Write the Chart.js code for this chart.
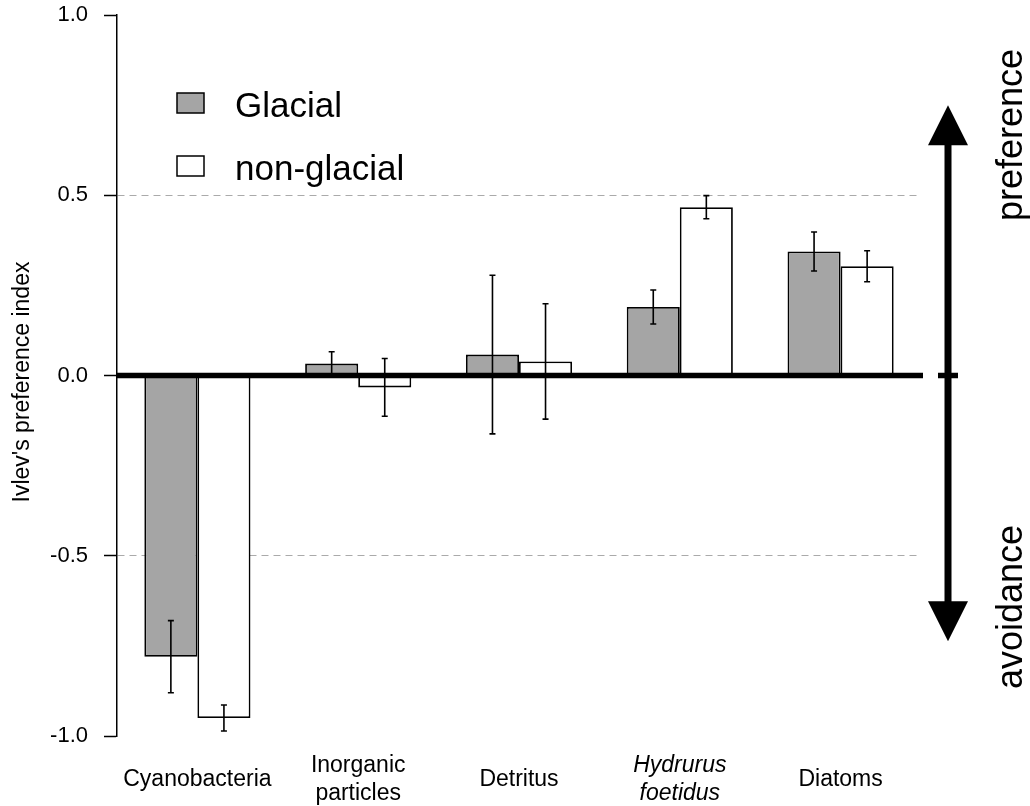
<!DOCTYPE html>
<html>
<head>
<meta charset="utf-8">
<title>Ivlev's preference index</title>
<script src="https://cdn.jsdelivr.net/npm/chart.js@4.4.1/dist/chart.umd.min.js"></script>
<style>
    html, body { margin: 0; padding: 0; background: #fff; }
    #wrap { width: 1030px; height: 806px; }
</style>
</head>
<body>
<div id="wrap"><canvas id="chart" width="1030" height="806"></canvas></div>
<script>
// данные графика
const categories = ['Cyanobacteria', ['Inorganic', 'particles'], 'Detritus', ['Hydrurus', 'foetidus'], 'Diatoms'];
const glacial = [-0.78, 0.033, 0.058, 0.19, 0.344];
const glacialErr = [0.10, 0.033, 0.22, 0.047, 0.054];
const nonGlacial = [-0.95, -0.033, 0.039, 0.467, 0.303];
const nonGlacialErr = [0.036, 0.08, 0.16, 0.032, 0.043];
const yTicks = [-1, -0.5, 0, 0.5, 1];

const FONT = "'Liberation Sans', Arial, Helvetica, sans-serif";

// усы погрешностей
const errorBars = {
    id: 'errorBars',
    afterDatasetsDraw(chart) {
        const ctx = chart.ctx;
        const y = chart.scales.y;
        chart.data.datasets.forEach((ds, i) => {
            const meta = chart.getDatasetMeta(i);
            meta.data.forEach((bar, j) => {
                const v = ds.data[j];
                const e = ds.errors[j];
                const top = y.getPixelForValue(v + e);
                const bottom = y.getPixelForValue(v - e);
                ctx.save();
                ctx.strokeStyle = '#000';
                ctx.lineWidth = 1.6;
                ctx.beginPath();
                ctx.moveTo(bar.x, top);
                ctx.lineTo(bar.x, bottom);
                ctx.moveTo(bar.x - 3, top);
                ctx.lineTo(bar.x + 3, top);
                ctx.moveTo(bar.x - 3, bottom);
                ctx.lineTo(bar.x + 3, bottom);
                ctx.stroke();
                ctx.restore();
            });
        });
    }
};

// линия нуля, легенда, стрелка и подписи
const decorations = {
    id: 'decorations',
    afterDatasetsDraw(chart) {
        const ctx = chart.ctx;
        const area = chart.chartArea;
        const y = chart.scales.y;
        const y0 = y.getPixelForValue(0);

        ctx.save();
        // жирная линия нуля
        ctx.strokeStyle = '#000';
        ctx.lineWidth = 5.5;
        ctx.beginPath();
        ctx.moveTo(area.left, y0);
        ctx.lineTo(area.right + 2, y0);
        ctx.stroke();

        // стрелка preference / avoidance
        const ax = 948;
        const tipTop = y.getPixelForValue(0.75);
        const tipBottom = y.getPixelForValue(-0.737);
        const head = 40;
        ctx.lineWidth = 7;
        ctx.beginPath();
        ctx.moveTo(ax, tipTop + head - 2);
        ctx.lineTo(ax, tipBottom - head + 2);
        ctx.stroke();
        ctx.fillStyle = '#000';
        ctx.beginPath();
        ctx.moveTo(ax, tipTop);
        ctx.lineTo(ax - 20, tipTop + head);
        ctx.lineTo(ax + 20, tipTop + head);
        ctx.closePath();
        ctx.fill();
        ctx.beginPath();
        ctx.moveTo(ax, tipBottom);
        ctx.lineTo(ax - 20, tipBottom - head);
        ctx.lineTo(ax + 20, tipBottom - head);
        ctx.closePath();
        ctx.fill();
        ctx.lineWidth = 5.5;
        ctx.beginPath();
        ctx.moveTo(ax - 10, y0);
        ctx.lineTo(ax + 10, y0);
        ctx.stroke();

        ctx.fillStyle = '#000';
        ctx.textAlign = 'center';
        ctx.textBaseline = 'middle';
        ctx.font = '36px ' + FONT;
        ctx.save();
        ctx.translate(1012, 135);
        ctx.rotate(-Math.PI / 2);
        ctx.fillText('preference', 0, 0);
        ctx.restore();
        ctx.save();
        ctx.translate(1012, 607);
        ctx.rotate(-Math.PI / 2);
        ctx.fillText('avoidance', 0, 0);
        ctx.restore();

        // подпись оси Y
        ctx.font = '23px ' + FONT;
        ctx.save();
        ctx.translate(23, 382);
        ctx.rotate(-Math.PI / 2);
        ctx.fillText("Ivlev's preference index", 0, 0);
        ctx.restore();

        // легенда
        const items = [
            { label: chart.data.datasets[0].label, color: chart.data.datasets[0].backgroundColor, box: 93, base: 117 },
            { label: chart.data.datasets[1].label, color: chart.data.datasets[1].backgroundColor, box: 156, base: 180 }
        ];
        ctx.font = '35px ' + FONT;
        ctx.textAlign = 'left';
        ctx.textBaseline = 'alphabetic';
        items.forEach(it => {
            ctx.fillStyle = it.color;
            ctx.fillRect(177, it.box, 27, 20);
            ctx.strokeStyle = '#000';
            ctx.lineWidth = 1.5;
            ctx.strokeRect(177, it.box, 27, 20);
            ctx.fillStyle = '#000';
            ctx.fillText(it.label, 235, it.base);
        });
        ctx.restore();
    }
};

new Chart(document.getElementById('chart'), {
    type: 'bar',
    data: {
        labels: categories,
        datasets: [
            {
                label: 'Glacial',
                data: glacial,
                errors: glacialErr,
                backgroundColor: '#a5a5a5',
                borderColor: '#000',
                borderWidth: 1.8,
                borderSkipped: false
            },
            {
                label: 'non-glacial',
                data: nonGlacial,
                errors: nonGlacialErr,
                backgroundColor: '#ffffff',
                borderColor: '#000',
                borderWidth: 1.8,
                borderSkipped: false
            }
        ]
    },
    options: {
        responsive: false,
        animation: false,
        layout: { padding: { left: 0, top: 15, right: 109, bottom: 0 } },
        datasets: { bar: { categoryPercentage: 0.66, barPercentage: 1 } },
        plugins: {
            legend: { display: false },
            tooltip: { enabled: false }
        },
        scales: {
            x: {
                grid: { display: false, drawTicks: false },
                border: { display: false },
                afterFit(scale) { scale.height = 70; },
                ticks: {
                    color: '#000',
                    padding: 30,
                    crossAlign: 'center',
                    maxRotation: 0,
                    autoSkip: false,
                    font: (c) => ({ family: FONT, size: 23, lineHeight: 1.2, style: c.index === 3 ? 'italic' : 'normal' })
                }
            },
            y: {
                min: -1,
                max: 1,
                afterFit(scale) {
                    scale.width = 117;
                    // подписи делений не должны сдвигать область графика
                    scale.paddingTop = 0;
                    scale.paddingBottom = 0;
                },
                afterBuildTicks(scale) { scale.ticks = yTicks.map(v => ({ value: v })); },
                grid: {
                    color: (c) => (c.tick && Math.abs(Math.abs(c.tick.value) - 0.5) < 1e-9) ? '#aaaaaa' : 'rgba(0,0,0,0)',
                    lineWidth: 1,
                    tickColor: '#000',
                    tickLength: 13,
                    tickWidth: 1.5
                },
                border: { display: true, color: '#000', width: 1.5, dash: [7, 5] },
                ticks: {
                    color: '#000',
                    padding: 16,
                    font: { family: FONT, size: 22 },
                    callback: (v) => Number(v).toFixed(1)
                }
            }
        }
    },
    plugins: [errorBars, decorations]
});
</script>
</body>
</html>
